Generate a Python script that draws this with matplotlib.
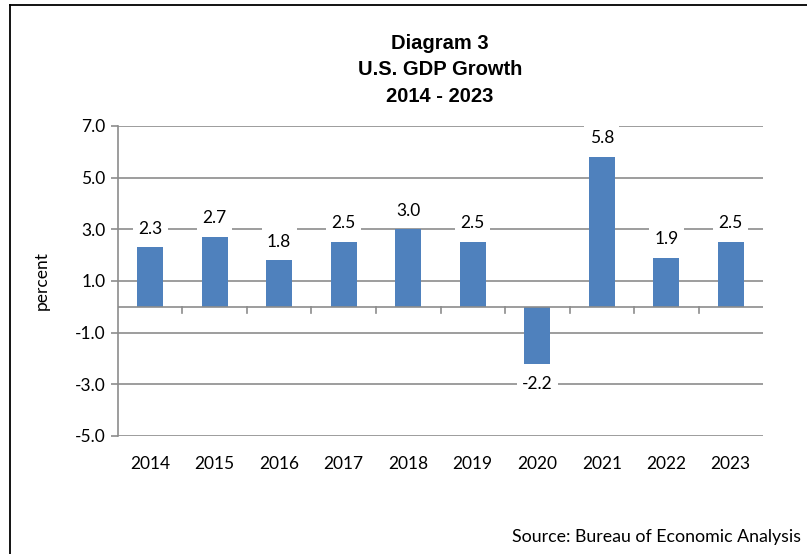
import matplotlib
matplotlib.use("Agg")
import matplotlib.pyplot as plt
from matplotlib.lines import Line2D

years = ['2014', '2015', '2016', '2017', '2018', '2019', '2020', '2021', '2022', '2023']
growth = [2.3, 2.7, 1.8, 2.5, 3.0, 2.5, -2.2, 5.8, 1.9, 2.5]
yticks = [-5.0, -3.0, -1.0, 1.0, 3.0, 5.0, 7.0]

body_font = 'Lato'
title_font = 'Liberation Sans'
grid_col = '#8c8c8c'

fig = plt.figure(figsize=(8.07, 5.54), dpi=100)
ax = fig.add_axes([0.1462, 0.2130, 0.7993, 0.5596])

x = range(len(years))
ax.bar(x, growth, width=0.4, color='#4f81bd', zorder=2)

# value labels with white box so they cut the gridlines
for i, v in enumerate(growth):
    off = 13.5 if v >= 0 else -15
    ax.annotate(f'{v:.1f}', (i, v), xytext=(0, off), textcoords='offset points',
                ha='center', va='center', fontsize=12.5, family=body_font,
                bbox=dict(boxstyle='square,pad=0.3', fc='white', ec='none'), zorder=4)

ax.set_xlim(-0.5, len(years) - 0.5)
ax.set_ylim(-5, 7)
ax.set_yticks(yticks)
ax.set_yticklabels([f'{t:.1f}' for t in yticks], fontsize=12.5, family=body_font)
ax.yaxis.grid(True, color=grid_col, linewidth=1.2, zorder=0)
ax.tick_params(axis='y', length=5, color=grid_col, width=1.2, pad=4)

# category axis on the zero line, ticks between categories
ax.axhline(0, color=grid_col, linewidth=1.2, zorder=3)
ax.set_xticks([])
for i in range(len(years) - 1):
    ax.plot([i + 0.5, i + 0.5], [0, -0.22], color=grid_col, linewidth=1.2, zorder=3, clip_on=False)
for i, y in enumerate(years):
    ax.text(i, -6.1, y, ha='center', va='center', fontsize=12.5, family=body_font)

for s in ['top', 'right', 'bottom']:
    ax.spines[s].set_visible(False)
ax.spines['left'].set_color(grid_col)
ax.spines['left'].set_linewidth(1.2)

ax.set_ylabel('percent', fontsize=12.5, family=body_font, labelpad=18)

for yy, line in zip([0.922, 0.874, 0.826], ['Diagram 3', 'U.S. GDP Growth', '2014 - 2023']):
    fig.text(0.545, yy, line, ha='center', va='center', fontsize=14.5,
             fontweight='bold', family=title_font)

fig.text(0.993, 0.030, 'Source: Bureau of Economic Analysis', ha='right', va='center',
         fontsize=12.8, family=body_font)

# chart frame (only left and top edges fall inside the picture)
fig.add_artist(Line2D([10 / 807, 10 / 807], [0, 1 - 5 / 554], color='black', linewidth=1.3))
fig.add_artist(Line2D([10 / 807, 1], [1 - 5 / 554, 1 - 5 / 554], color='black', linewidth=1.3))

fig.savefig('out.png', dpi=100)
